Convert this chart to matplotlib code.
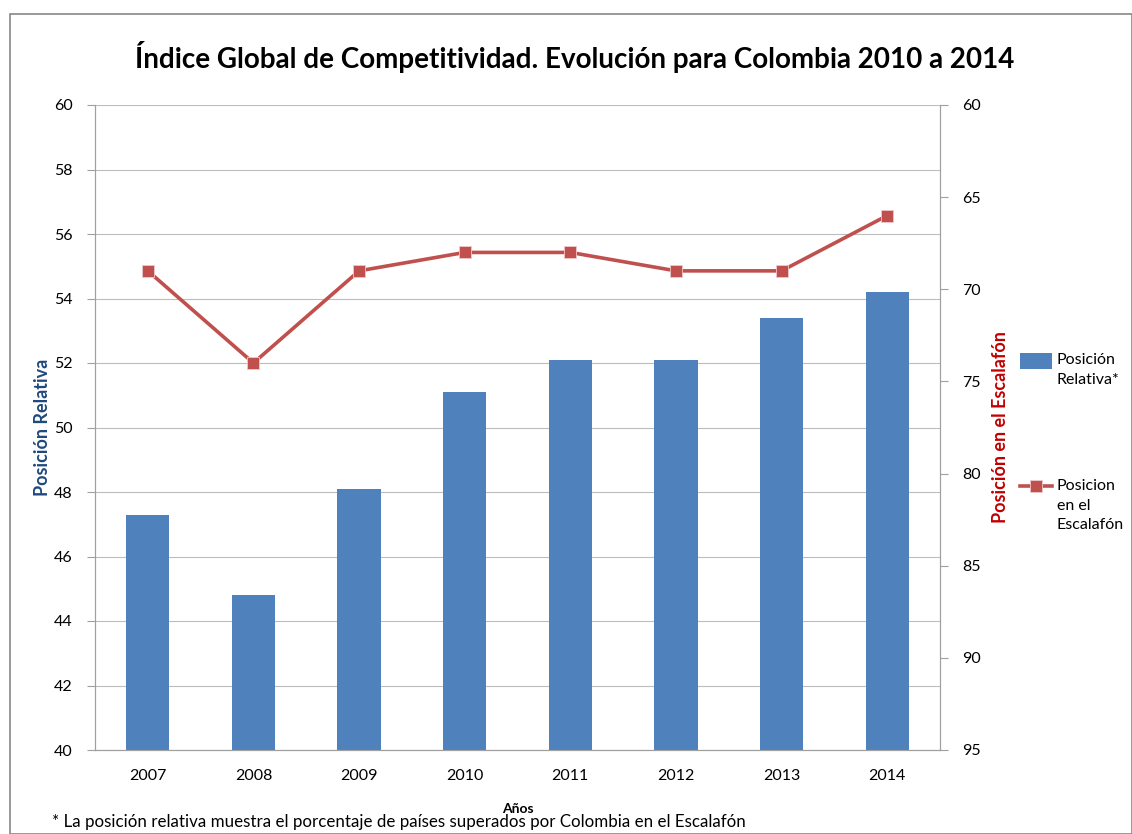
import matplotlib.pyplot as plt
from matplotlib.patches import Rectangle

# datos
anios = ['2007', '2008', '2009', '2010', '2011', '2012', '2013', '2014']
posicion_relativa = [47.3, 44.8, 48.1, 51.1, 52.1, 52.1, 53.4, 54.2]
posicion_escalafon = [69, 74, 69, 68, 68, 69, 69, 66]

plt.rcParams['font.family'] = ['Lato', 'DejaVu Sans']

azul = '#4F81BD'
rojo = '#C0504D'
gris = '#A0A0A0'

fig = plt.figure(figsize=(11.32, 8.34), dpi=100)
fig.patches.append(Rectangle((10 / 1132, 0), 1 - 10 / 1132 - 0.5 / 1132, 1 - 14 / 834,
                             transform=fig.transFigure, fill=False,
                             edgecolor='#888888', linewidth=1.2))

ax = fig.add_axes([95 / 1132, 1 - 750 / 834, 845 / 1132, 645 / 834])
x = list(range(len(anios)))
ax.bar(x, posicion_relativa, width=0.41, color=azul, zorder=2, label='Posición\nRelativa*')
ax.set_ylim(40, 60)
ax.set_yticks(range(40, 61, 2))
ax.set_xlim(-0.5, len(anios) - 0.5)
ax.set_xticks(x)
ax.set_xticklabels(anios)
ax.grid(axis='y', color='#BDBDBD', linewidth=0.8, zorder=0)
ax.tick_params(axis='x', length=0, pad=14, labelsize=11.5)
ax.tick_params(axis='y', length=6, color=gris, pad=10, labelsize=11.5)
for s in ax.spines.values():
    s.set_color(gris)
ax.spines['top'].set_visible(False)
ax.set_ylabel('Posición Relativa', color='#1F497D', fontsize=13, fontweight='bold', labelpad=2)

ax2 = ax.twinx()
ax2.plot(x, posicion_escalafon, color=rojo, linewidth=2.6, marker='s', markersize=9,
         markeredgecolor='#f0c8c8', markeredgewidth=0.6, zorder=3, label='Posicion\nen el\nEscalafón')
ax2.set_ylim(95, 60)
ax2.set_yticks(range(60, 96, 5))
ax2.tick_params(axis='y', length=6, color=gris, pad=10, labelsize=11.5)
for s in ax2.spines.values():
    s.set_color(gris)
ax2.spines['top'].set_visible(False)
ax2.set_ylabel('Posición en el Escalafón', color='#C00000', fontsize=13, fontweight='bold', labelpad=8)

fig.text(575 / 1132, 1 - 57 / 834, 'Índice Global de Competitividad. Evolución para Colombia 2010 a 2014',
         ha='center', va='center', fontsize=20, fontweight='bold')
fig.text(518 / 1132, 1 - 809 / 834, 'Años', ha='center', va='center', fontsize=10, fontweight='bold')
fig.text(52 / 1132, 1 - 822 / 834,
         '* La posición relativa muestra el porcentaje de países superados por Colombia en el Escalafón',
         ha='left', va='center', fontsize=12.2)

h1, l1 = ax.get_legend_handles_labels()
h2, l2 = ax2.get_legend_handles_labels()
leg1 = fig.legend([h1[0]], l1, loc='upper left', bbox_to_anchor=(1020 / 1132, 1 - 353 / 834),
                  frameon=False, fontsize=11.5, handlelength=2.0, handleheight=1.2,
                  handletextpad=0.3, borderpad=0, borderaxespad=0)
leg2 = fig.legend(h2, l2, loc='upper left', bbox_to_anchor=(1020 / 1132, 1 - 479 / 834),
                  frameon=False, fontsize=11.5, handlelength=2.0, handleheight=1.2,
                  handletextpad=0.3, borderpad=0, borderaxespad=0)
for lg in (leg1, leg2):
    for t in lg.get_texts():
        t.set_linespacing(1.5)
    # simbolo alineado con la primera linea, como en Excel
    for col in lg._legend_handle_box.get_children():
        for fila in col.get_children():
            fila.align = 'top'

fig.savefig('out.png', dpi=100)
